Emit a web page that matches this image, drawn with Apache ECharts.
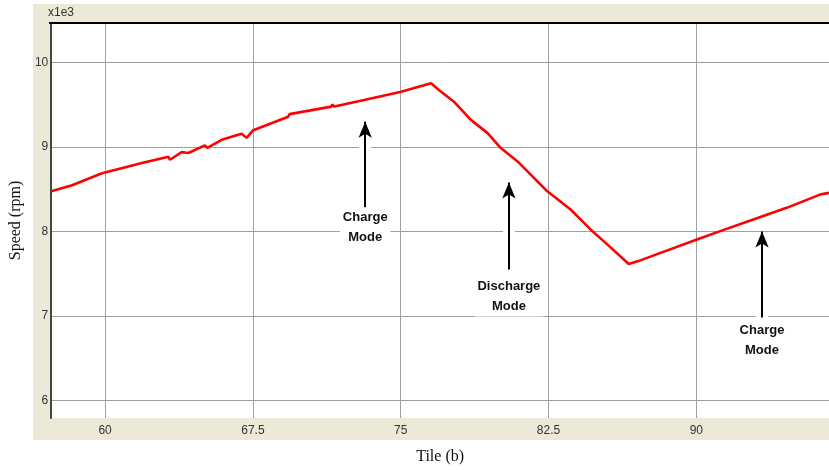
<!DOCTYPE html>
<html lang="en">
<head>
    <meta charset="UTF-8">
    <title>Speed vs Tile</title>
    <script src="https://cdn.jsdelivr.net/npm/echarts@6.0.0/dist/echarts.min.js"></script>
    <style>
        html, body { margin: 0; padding: 0; background: #fff; }
        #chart { width: 829px; height: 470px; }
    </style>
</head>
<body>
    <div id="chart"></div>

    <script>
        // tick labels
        var xTicks = [60, 67.5, 75, 82.5, 90];
        var yTicks = [6, 7, 8, 9, 10];

        // speed trace (x1e3 rpm)
        var tile = [57.27, 58.33, 59.75, 60.0, 60.1, 61.87, 63.22, 63.29, 63.89, 64.23,
                    65.06, 65.19, 65.92, 66.93, 67.02, 67.18, 67.52, 69.29, 69.36, 69.46,
                    71.48, 71.53, 71.63, 73.15, 75.02, 76.54, 76.94, 77.7, 78.56, 79.41,
                    80.08, 80.93, 82.44, 83.62, 84.63, 85.48, 86.57, 87.06, 87.84, 90.03,
                    91.21, 92.89, 94.58, 96.27, 96.73];
        var speed = [8.476, 8.547, 8.68, 8.7, 8.68, 8.811, 8.885, 8.85, 8.94, 8.93,
                     9.02, 8.99, 9.086, 9.157, 9.16, 9.11, 9.2, 9.36, 9.39, 9.37,
                     9.479, 9.505, 9.48, 9.558, 9.656, 9.757, 9.676, 9.538, 9.322, 9.165,
                     8.988, 8.83, 8.476, 8.26, 8.024, 7.847, 7.615, 7.649, 7.717, 7.906,
                     8.004, 8.142, 8.28, 8.437, 8.457];

        // annotations: arrow x, arrow tip, arrow tail, label y
        var noteText = ['Charge\nMode', 'Discharge\nMode', 'Charge\nMode'];
        var noteX = [73.2, 80.49, 93.33];
        var noteTip = [9.3, 8.58, 8.0];
        var noteTail = [8.28, 7.55, 6.98];
        var noteLabelY = [8.05, 7.23, 6.71];

        var chart = echarts.init(document.getElementById('chart'));

        var arrowLines = [], arrowBg = [], notePoints = [];
        for (var i = 0; i < noteX.length; i++) {
            arrowLines.push([{ coord: [noteX[i], noteTail[i]] }, { coord: [noteX[i], noteTip[i]] }]);
            arrowBg.push([{ coord: [noteX[i], noteTail[i]] }, { coord: [noteX[i], noteTip[i] - 0.05] }]);
            notePoints.push({ coord: [noteX[i], noteLabelY[i]], value: noteText[i] });
        }

        var option = {
            animation: false,
            graphic: [
                { type: 'rect', z: -10, shape: { x: 33, y: 4, width: 796, height: 436 }, style: { fill: '#ece9d8' } },
                { type: 'line', z: 10, shape: { x1: 49, y1: 23, x2: 829, y2: 23 }, style: { stroke: '#000', lineWidth: 2 } },
                { type: 'text', left: 48, top: 7, style: { text: 'x1e3', fill: '#333', font: '12px "Liberation Sans", Arial, sans-serif' } }
            ],
            grid: {
                left: 49, top: 23, right: 0, bottom: 50,
                show: true, backgroundColor: '#fff', borderWidth: 0
            },
            xAxis: {
                type: 'value',
                min: 57.27, max: 96.73,
                name: 'Tile (b)',
                nameLocation: 'middle',
                nameGap: 31,
                nameTextStyle: { fontFamily: '"Liberation Serif", serif', fontSize: 16, color: '#111' },
                axisLine: { show: false },
                axisTick: { show: false, customValues: xTicks },
                axisLabel: {
                    customValues: xTicks, margin: 7,
                    fontFamily: '"Liberation Sans Narrow", "Liberation Sans", Arial, sans-serif',
                    fontSize: 12, color: '#333'
                },
                splitLine: { show: true, lineStyle: { color: '#a0a0a0', width: 1 } }
            },
            yAxis: {
                type: 'value',
                min: 5.79, max: 10.47,
                name: 'Speed (rpm)',
                nameLocation: 'middle',
                nameRotate: 90,
                nameGap: 26,
                nameTextStyle: { fontFamily: '"Liberation Serif", serif', fontSize: 16, color: '#111' },
                axisLine: { show: true, lineStyle: { color: '#444', width: 2 } },
                axisTick: { show: false, customValues: yTicks },
                axisLabel: {
                    customValues: yTicks, margin: 3,
                    fontFamily: '"Liberation Sans Narrow", "Liberation Sans", Arial, sans-serif',
                    fontSize: 12, color: '#333'
                },
                splitLine: { show: true, lineStyle: { color: '#a0a0a0', width: 1 } }
            },
            series: [
                {
                    name: 'Speed',
                    type: 'line',
                    symbol: 'none',
                    lineStyle: { color: '#ff0000', width: 2.6 },
                    data: tile.map(function (t, k) { return [t, speed[k]]; })
                },
                {
                    type: 'line', data: [], silent: true,
                    markLine: {
                        silent: true, symbol: ['none', 'none'],
                        lineStyle: { color: '#fff', width: 12, type: 'solid' },
                        label: { show: false },
                        data: arrowBg
                    },
                    markPoint: {
                        silent: true, symbol: 'rect', symbolSize: 0,
                        label: {
                            show: true, position: 'inside',
                            formatter: function (p) { return p.value; },
                            fontFamily: '"Liberation Sans", Arial, sans-serif',
                            fontWeight: 'bold', fontSize: 13, lineHeight: 20,
                            color: '#111', backgroundColor: '#fff', padding: [0, 3]
                        },
                        data: notePoints
                    }
                },
                {
                    type: 'line', data: [], silent: true,
                    markLine: {
                        silent: true, symbol: ['none', 'arrow'], symbolSize: [10, 16],
                        lineStyle: { color: '#000', width: 2, type: 'solid' },
                        label: { show: false },
                        data: arrowLines
                    }
                }
            ]
        };

        chart.setOption(option);
    </script>
</body>
</html>
